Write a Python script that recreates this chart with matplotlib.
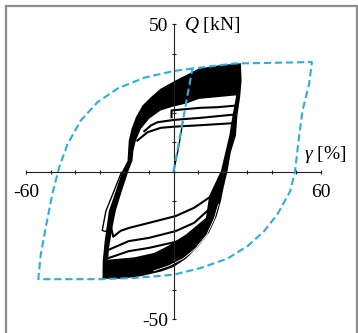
import numpy as np
import matplotlib
matplotlib.use('Agg')
import matplotlib.pyplot as plt
from matplotlib.lines import Line2D

plt.rcParams['font.family'] = ['Liberation Serif', 'DejaVu Serif']
plt.rcParams['mathtext.fontset'] = 'custom'
plt.rcParams['mathtext.it'] = 'Liberation Serif:italic'
plt.rcParams['mathtext.rm'] = 'Liberation Serif'

# shear strain gamma [%] and shear force Q [kN]

# design envelope (dashed), starting with the initial loading branch
env_gamma = [0.0, 7.7, 24.7, 56.3, 55.2, 52.5, 51.2, 49.4, 47.5, 42.3, 36.9, 30.1, 22.0,
             11.1, 0.0, -16.0, -29.6, -55.0, -54.0, -52.0, -49.3, -46.5, -43.1, -37.7,
             -30.9, -22.8, -11.9, 0.3, 7.7]
env_q = [0.0, 35.0, 36.7, 37.2, 29.9, 20.8, 12.8, 0.0, -6.5, -14.4, -20.1, -25.2, -29.4,
         -32.6, -34.9, -36.0, -36.4, -36.4, -28.1, -19.0, -7.6, 1.5, 9.4, 17.4,
         23.6, 28.2, 31.9, 34.2, 35.0]

# outer edge of the dense band of test loops
outer_gamma = [-28.9, -28.8, -28.0, -26.3, -23.5, -20.8, -18.7, -18.2, -17.1, -15.3, -12.6,
               -9.2, -5.2, 0.9, 10.3, 18.5, 27.4, 27.7, 27.1, 26.0, 25.4, 23.3, 22.0,
               20.4, 19.3, 17.6, 14.5, 9.8, 5.0, 0.0, -5.0, -13.3, -21.4]
outer_q = [-36.25, -30.3, -23.5, -13.3, -6.5, 0.3, 3.75, 10.6, 14.5, 18.5, 22.5,
           25.3, 28.2, 31.0, 35.0, 36.1, 36.8, 31.0, 25.3, 19.1, 12.3, 6.6, 0.3,
           -5.3, -9.9, -15.0, -20.6, -25.6, -29.5, -32.3, -33.8, -35.4, -36.25]

# inner (open) edge of the loop band
inner_gamma = [25.4, 17.9, 10.3, 5.0, 0.3, -5.2, -9.9, -13.3, -15.3, -16.3, -16.7, -18.3,
               -21.0, -23.5, -25.1, -26.2, -26.6, -16.0, -7.9, -2.4, 5.0, 13.2, 14.5,
               19.3, 22.7, 24.0, 25.4]
inner_q = [25.9, 25.3, 24.7, 23.1, 22.2, 20.8, 18.0, 14.5, 10.6, 7.2, 3.75, 0.3,
           -6.5, -13.3, -20.1, -25.8, -29.8, -29.0, -27.5, -25.2, -21.3, -15.6, -8.2,
           0.3, 12.3, 19.1, 25.3]

# gap between the outermost loop and the rest of the band
gap_gamma = [-8.0, -2.0, 4.0, 9.0, 13.5, 16.6, 18.3]
gap_q = [-33.6, -31.9, -29.4, -26.0, -21.4, -15.8, -11.0]

# later cycles with reduced force (positive side)
p1_gamma = [-0.8, -0.8, 3.0, 11.1, 17.9, 24.7]
p1_q = [18.5, 20.8, 21.1, 21.7, 21.9, 22.4]
p2_gamma = [-11.9, -9.2, -6.5, 0.3, 11.1, 24.7]
p2_q = [13.75, 15.7, 16.8, 17.6, 18.3, 19.4]
p3_gamma = [-14.7, -10.6, -5.2, 0.3, 11.1, 24.7]
p3_q = [10.6, 13.4, 14.9, 15.3, 15.8, 16.5]

# later cycles with reduced force (negative side)
n1_gamma = [-25.5, -24.5, -21.5, -18.0, -9.9, 0.9, 8.4, 14.5, 17.9]
n1_q = [-18.5, -22.0, -20.0, -19.0, -17.3, -15.0, -12.2, -8.75, -5.3]
n2_gamma = [-26.3, -18.2, -10.0, 0.9, 8.4, 14.5, 17.2]
n2_q = [-26.4, -23.5, -22.4, -20.1, -17.3, -12.7, -8.75]
n3_gamma = [-26.3, -18.2, -10.0, 0.9, 8.4, 13.8, 16.6]
n3_q = [-29.2, -26.9, -25.8, -23.75, -21.3, -16.7, -12.2]

# reloading spike on the left branch
spike_gamma = [-21.2, -24.2, -27.5, -29.0, -27.1, -25.8, -24.8]
spike_q = [-0.2, -6.5, -13.3, -19.9, -20.3, -16.7, -13.3]

# first loading from the origin
init_gamma = [0.0, 2.0, 3.8]
init_q = [0.0, 8.0, 17.0]

x_ticks = np.arange(-60, 61, 10)
y_ticks = np.arange(-50, 51, 10)

fig = plt.figure(figsize=(3.58, 3.33), dpi=100)
ax = fig.add_axes([26 / 358, 13.7 / 333, 295 / 358, 295 / 333])
ax.set_xlim(-60, 60)
ax.set_ylim(-50, 50)
ax.patch.set_alpha(0)

ax.fill(outer_gamma, outer_q, color='black', lw=0, zorder=1)
ax.fill(inner_gamma, inner_q, color='white', lw=0, zorder=1.1)
ax.plot(gap_gamma, gap_q, color='white', lw=0.6, zorder=1.2)
for gx, qy in [(p1_gamma, p1_q), (p2_gamma, p2_q), (p3_gamma, p3_q),
               (n1_gamma, n1_q), (n2_gamma, n2_q), (n3_gamma, n3_q)]:
    ax.plot(gx, qy, color='black', lw=1.5, zorder=1.5, solid_joinstyle='round')
ax.plot(spike_gamma, spike_q, color='black', lw=1.0, zorder=1.5)
ax.plot(init_gamma, init_q, color='black', lw=1.0, zorder=1.5)

ax.plot(env_gamma, env_q, color='#2aaee0', lw=1.5, dashes=(3.5, 1.8), zorder=3)

for side in ['top', 'right']:
    ax.spines[side].set_visible(False)
ax.spines['left'].set_position('zero')
ax.spines['bottom'].set_position('zero')
for side in ['left', 'bottom']:
    ax.spines[side].set_linewidth(0.8)
    ax.spines[side].set_color('#222222')
    ax.spines[side].set_zorder(2.5)

ax.set_xticks(x_ticks)
ax.set_yticks(y_ticks)
ax.set_xticklabels([str(v) if abs(v) == 60 else '' for v in x_ticks])
ax.set_yticklabels([str(v) if abs(v) == 50 else '' for v in y_ticks])
ax.tick_params(axis='x', direction='inout', length=3.4, width=0.8, pad=7,
               labelsize=14, color='#222222')
ax.tick_params(axis='y', direction='inout', length=3.4, width=0.8, pad=2.4,
               labelsize=14, color='#222222')

ax.text(4.2, 49.8, '$Q$ [kN]', fontsize=14, ha='left', va='center', clip_on=False)
ax.text(53.1, 5.8, r'$\gamma$ [%]', fontsize=14, ha='left', va='center', clip_on=False)

# grey frame round the panel
frame_kw = dict(color='#8c8c8c', lw=1.6, transform=fig.transFigure)
fig.add_artist(Line2D([6 / 358, 6 / 358], [0, 1 - 6 / 333], **frame_kw))
fig.add_artist(Line2D([6 / 358, 356.5 / 358], [1 - 6 / 333, 1 - 6 / 333], **frame_kw))
fig.add_artist(Line2D([356.5 / 358, 356.5 / 358], [0, 1 - 6 / 333], **frame_kw))

fig.savefig('out.png', dpi=100)
